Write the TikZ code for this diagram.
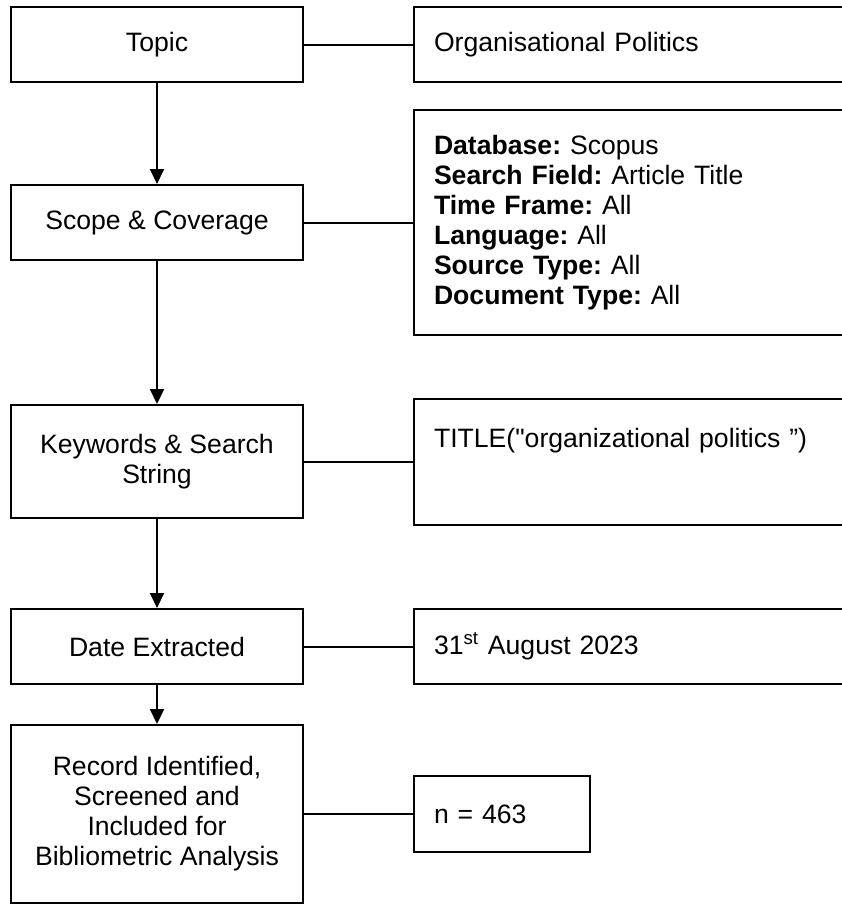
\documentclass[tikz,border=0pt]{standalone}
\usepackage{fontspec}
\setmainfont{Liberation Sans}[Ligatures=TeXOff]
\frenchspacing
\usetikzlibrary{positioning,arrows.meta}

\begin{document}
\begin{tikzpicture}[x=0.5pt,y=-0.5pt,font=\fontsize{13.3}{15}\selectfont,
		lbox/.style={draw,line width=1pt,minimum width=146pt,minimum height=37.5pt,align=center,inner sep=0pt},
		rbox/.style={draw,line width=1pt,anchor=west,align=left,inner xsep=10pt,inner ysep=0pt,
			text width=210pt,minimum height=37.5pt},
		link/.style={line width=1pt},
		flow/.style={line width=1pt,-{Triangle[length=7.5pt,width=7pt]}}]
		\useasboundingbox (0,0) rectangle (841,905);
		% left column
		\node[lbox] (topic) at (157,44.5) {Topic};
		\node[lbox] (scope) at (157,222.5) {Scope \& Coverage};
		\node[lbox,minimum height=56.5pt] (keys) at (157,461.5) {Keywords \& Search\\String};
		\node[lbox] (date) at (157,646.5) {Date Extracted};
		\node[lbox,minimum height=89pt] (record) at (157,814)
			{Record Identified,\\Screened and\\Included for\\Bibliometric Analysis};
		% right column
		\node[rbox] (orgpol) at (413,44.5) {Organisational Politics};
		\node[rbox,minimum height=112.5pt] (scopeinfo) at (413,222.5)
			{\textbf{Database:} Scopus\\
			 \textbf{Search Field:} Article Title\\
			 \textbf{Time Frame:} All\\
			 \textbf{Language:} All\\
			 \textbf{Source Type:} All\\
			 \textbf{Document Type:} All};
		\node[rbox,text height=24.25pt,text depth=38.75pt] (query) at (413,461.5)
			{TITLE("organizational politics ”)};
		\node[rbox] (dateval) at (413,646.5) {31\textsuperscript{st} August 2023};
		\node[rbox,text width=68pt,minimum height=38pt] (count) at (413,814) {n = 463};
		\path[flow]
		(topic) edge (scope)
		(scope) edge (keys)
		(keys) edge (date)
		(date) edge (record);
		\path[link]
		(topic) edge (orgpol)
		(scope) edge (scopeinfo)
		(keys) edge (query)
		(date) edge (dateval)
		(record) edge (count);
	\end{tikzpicture}
\end{document}
